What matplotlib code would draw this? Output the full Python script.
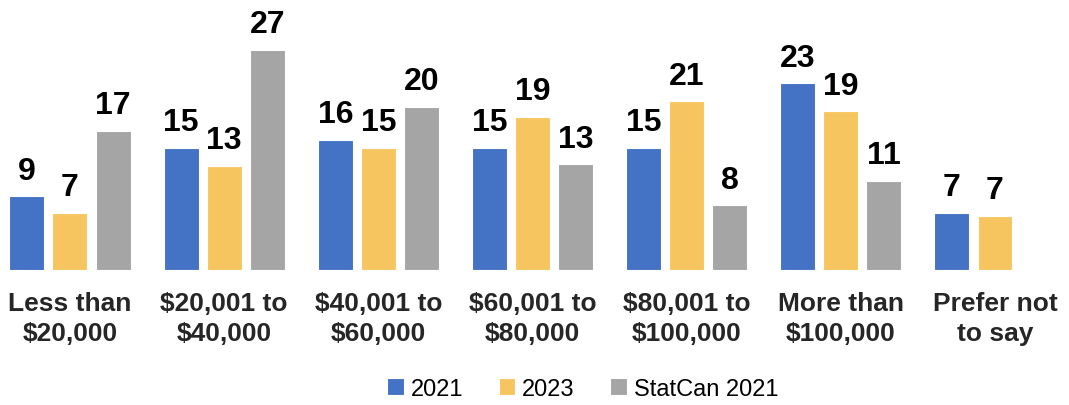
import matplotlib
matplotlib.use("Agg")
import matplotlib.pyplot as plt
import numpy as np

categories = ["Less than\n$20,000", "$20,001 to\n$40,000", "$40,001 to\n$60,000",
              "$60,001 to\n$80,000", "$80,001 to\n$100,000", "More than\n$100,000",
              "Prefer not\nto say"]
series_names = ["2021", "2023", "StatCan 2021"]
v2021 = [9.0, 14.9, 15.9, 14.9, 14.9, 22.8, 7.0]
v2023 = [7.0, 12.7, 14.9, 18.7, 20.6, 19.4, 6.6]
vstat = [17.0, 26.9, 19.9, 12.9, 7.9, 10.9, None]
labels2021 = ["9", "15", "16", "15", "15", "23", "7"]
labels2023 = ["7", "13", "15", "19", "21", "19", "7"]
labelsstat = ["17", "27", "20", "13", "8", "11", ""]
colors = ["#4472C4", "#F7C55F", "#A5A5A5"]

plt.rcParams['font.family'] = ['Liberation Sans', 'DejaVu Sans']

fig = plt.figure(figsize=(10.69, 4.06), dpi=100)
ax = fig.add_axes([0, 0.3325, 1, 0.6675])

x = np.arange(len(categories))
w = 0.227
step = 0.279
all_series = [(v2021, labels2021), (v2023, labels2023), (vstat, labelsstat)]
handles = []
for i, (vals, labs) in enumerate(all_series):
    xs = [xi + (i - 1) * step for xi, v in zip(x, vals) if v is not None]
    vs = [v for v in vals if v is not None]
    ls = [l for l, v in zip(labs, vals) if v is not None]
    bars = ax.bar(xs, vs, width=w, color=colors[i], edgecolor="white", linewidth=0.8,
                  label=series_names[i])
    handles.append(bars)
    for xx, vv, ll in zip(xs, vs, ls):
        ax.text(xx, vv + 1.3, ll, ha="center", va="bottom", fontsize=23,
                fontweight="bold", color="black")

ax.set_xlim(-0.454, 6.48)
ax.set_ylim(0, 33.1)
ax.set_xticks(x)
ax.set_xticklabels(categories, fontsize=19, fontweight="bold", linespacing=1.3,
                   color="#262626")
ax.tick_params(axis="x", length=0, pad=15)
ax.set_yticks([])
for s in ax.spines.values():
    s.set_visible(False)

leg = fig.legend(handles=handles, labels=series_names, loc="center",
                 bbox_to_anchor=(0.545, 0.04), ncol=3, frameon=False, fontsize=17,
                 handlelength=0.7, handleheight=0.7, handletextpad=0.3, columnspacing=1.5)

fig.savefig("out.png", dpi=100)
